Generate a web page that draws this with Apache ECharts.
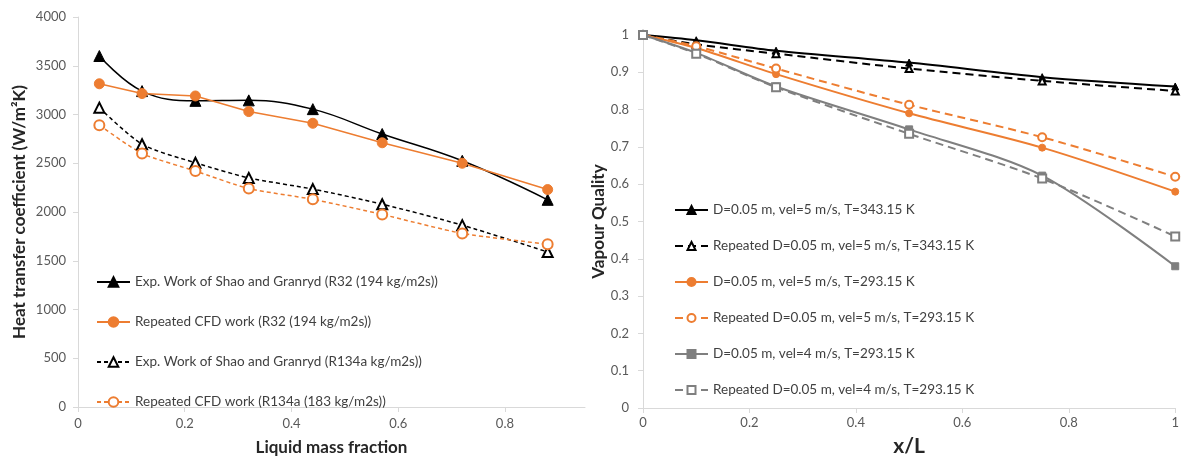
<!DOCTYPE html>
<html>
<head>
<meta charset="utf-8">
<script src="https://cdn.jsdelivr.net/npm/echarts@6/dist/echarts.min.js"></script>
<style>
  html, body { margin: 0; padding: 0; background: #fff; }
  #chart { width: 1182px; height: 462px; }
</style>
</head>
<body>
<div id="chart"></div>
<script>
  // left panel: heat transfer coefficient vs liquid mass fraction
  var massFraction = [0.04, 0.12, 0.22, 0.32, 0.44, 0.57, 0.72, 0.88];
  var expR32 = [3600, 3240, 3140, 3145, 3055, 2800, 2525, 2125];
  var cfdR32 = [3315, 3215, 3190, 3030, 2910, 2710, 2500, 2230];
  var expR134a = [3070, 2695, 2505, 2350, 2235, 2080, 1865, 1590];
  var cfdR134a = [2890, 2600, 2420, 2240, 2130, 1975, 1780, 1670];
  var leftNames = [
    'Exp. Work of Shao and Granryd (R32 (194 kg/m2s))',
    'Repeated CFD work (R32 (194 kg/m2s))',
    'Exp. Work of Shao and Granryd (R134a kg/m2s))',
    'Repeated CFD work (R134a (183 kg/m2s))'
  ];

  // right panel: vapour quality along the pipe
  var xL = [0, 0.1, 0.25, 0.5, 0.75, 1];
  var q5hot = [1, 0.986, 0.958, 0.926, 0.887, 0.862];
  var q5hotRep = [1, 0.975, 0.95, 0.91, 0.877, 0.85];
  var q5 = [1, 0.965, 0.895, 0.79, 0.698, 0.58];
  var q5Rep = [1, 0.97, 0.91, 0.813, 0.726, 0.62];
  var q4 = [1, 0.952, 0.862, 0.747, 0.623, 0.38];
  var q4Rep = [1, 0.95, 0.86, 0.735, 0.615, 0.46];
  var rightNames = [
    'D=0.05 m, vel=5 m/s, T=343.15 K',
    'Repeated D=0.05 m, vel=5 m/s, T=343.15 K',
    'D=0.05 m, vel=5 m/s, T=293.15 K',
    'Repeated D=0.05 m, vel=5 m/s, T=293.15 K',
    'D=0.05 m, vel=4 m/s, T=293.15 K',
    'Repeated D=0.05 m, vel=4 m/s, T=293.15 K'
  ];

  var FONT = 'Lato';
  var ORANGE = '#ED7D31';
  var GREY = '#7F7F7F';

  function pairs(xs, ys) {
    return xs.map(function (x, i) { return [x, ys[i]]; });
  }

  function plain(v) {
    return String(v);
  }

  function axisBase() {
    return {
      axisLine: { show: true, lineStyle: { color: '#D9D9D9', width: 1 } },
      axisTick: { show: true, length: 5, lineStyle: { color: '#D9D9D9' } },
      splitLine: { show: false },
      axisLabel: { color: '#595959', fontSize: 13, fontFamily: FONT, formatter: plain },
      nameTextStyle: { color: '#262626', fontSize: 17, fontWeight: 'bold', fontFamily: FONT },
      nameLocation: 'middle'
    };
  }

  function mk(name, xi, yi, data, color, symbol, size, dash, width, smooth) {
    return {
      name: name,
      type: 'line',
      xAxisIndex: xi,
      yAxisIndex: yi,
      data: data,
      smooth: smooth,
      symbol: symbol,
      symbolSize: size,
      showAllSymbol: true,
      lineStyle: { color: color, width: width, type: dash },
      itemStyle: { color: color, borderColor: color, borderWidth: 1 },
      animation: false
    };
  }

  var xLeft = Object.assign(axisBase(), {
    type: 'value', gridIndex: 0, min: 0, max: 0.95,
    name: 'Liquid mass fraction', nameGap: 32
  });
  xLeft.axisLabel = Object.assign({}, xLeft.axisLabel, { customValues: [0, 0.2, 0.4, 0.6, 0.8], margin: 10 });
  xLeft.axisTick = Object.assign({}, xLeft.axisTick, { customValues: [0, 0.2, 0.4, 0.6, 0.8] });

  var yLeft = Object.assign(axisBase(), {
    type: 'value', gridIndex: 0, min: 0, max: 4000, interval: 500,
    name: 'Heat transfer coefficient (W/m²K)', nameGap: 50
  });
  yLeft.axisLabel = Object.assign({}, yLeft.axisLabel, { margin: 12 });

  var xRight = Object.assign(axisBase(), {
    type: 'value', gridIndex: 1, min: 0, max: 1, interval: 0.2,
    name: 'x/L', nameGap: 28
  });
  xRight.nameTextStyle = Object.assign({}, xRight.nameTextStyle, { fontSize: 21 });

  var yRight = Object.assign(axisBase(), {
    type: 'value', gridIndex: 1, min: 0, max: 1, interval: 0.1,
    name: 'Vapour Quality', nameGap: 36
  });
  yRight.axisLabel = Object.assign({}, yRight.axisLabel, { margin: 14 });

  var chart = echarts.init(document.getElementById('chart'), null, { renderer: 'canvas' });
  chart.setOption({
    backgroundColor: '#fff',
    textStyle: { fontFamily: FONT },
    grid: [
      { left: 78, top: 17, width: 507, height: 390 },
      { left: 643, top: 35, width: 533, height: 373 }
    ],
    legend: [
      {
        data: leftNames, orient: 'vertical', left: 96, top: 275, padding: 0,
        itemWidth: 33, itemHeight: 12, itemGap: 26,
        textStyle: { color: '#404040', fontSize: 13.5, fontFamily: FONT }
      },
      {
        data: rightNames, orient: 'vertical', left: 674, top: 203, padding: 0,
        itemWidth: 33, itemHeight: 10, itemGap: 22,
        textStyle: { color: '#404040', fontSize: 13.5, fontFamily: FONT }
      }
    ],
    xAxis: [xLeft, xRight],
    yAxis: [yLeft, yRight],
    series: [
      mk(leftNames[0], 0, 0, pairs(massFraction, expR32), '#000', 'triangle', 11, 'solid', 1.5, 0.4),
      mk(leftNames[1], 0, 0, pairs(massFraction, cfdR32), ORANGE, 'circle', 10, 'solid', 1.5, false),
      mk(leftNames[2], 0, 0, pairs(massFraction, expR134a), '#000', 'emptyTriangle', 10, [4, 3], 1.5, 0.25),
      mk(leftNames[3], 0, 0, pairs(massFraction, cfdR134a), ORANGE, 'emptyCircle', 10, [4, 3], 1.5, 0.2),
      mk(rightNames[0], 1, 1, pairs(xL, q5hot), '#000', 'triangle', 7, 'solid', 2, 0.3),
      mk(rightNames[1], 1, 1, pairs(xL, q5hotRep), '#000', 'emptyTriangle', 7, [8, 5], 2, 0.3),
      mk(rightNames[2], 1, 1, pairs(xL, q5), ORANGE, 'circle', 7, 'solid', 2, 0.3),
      mk(rightNames[3], 1, 1, pairs(xL, q5Rep), ORANGE, 'emptyCircle', 8, [8, 5], 2, 0.3),
      mk(rightNames[4], 1, 1, pairs(xL, q4), GREY, 'rect', 7, 'solid', 2, 0.3),
      mk(rightNames[5], 1, 1, pairs(xL, q4Rep), GREY, 'emptyRect', 8, [8, 5], 2, 0.3)
    ]
  });
</script>
</body>
</html>
